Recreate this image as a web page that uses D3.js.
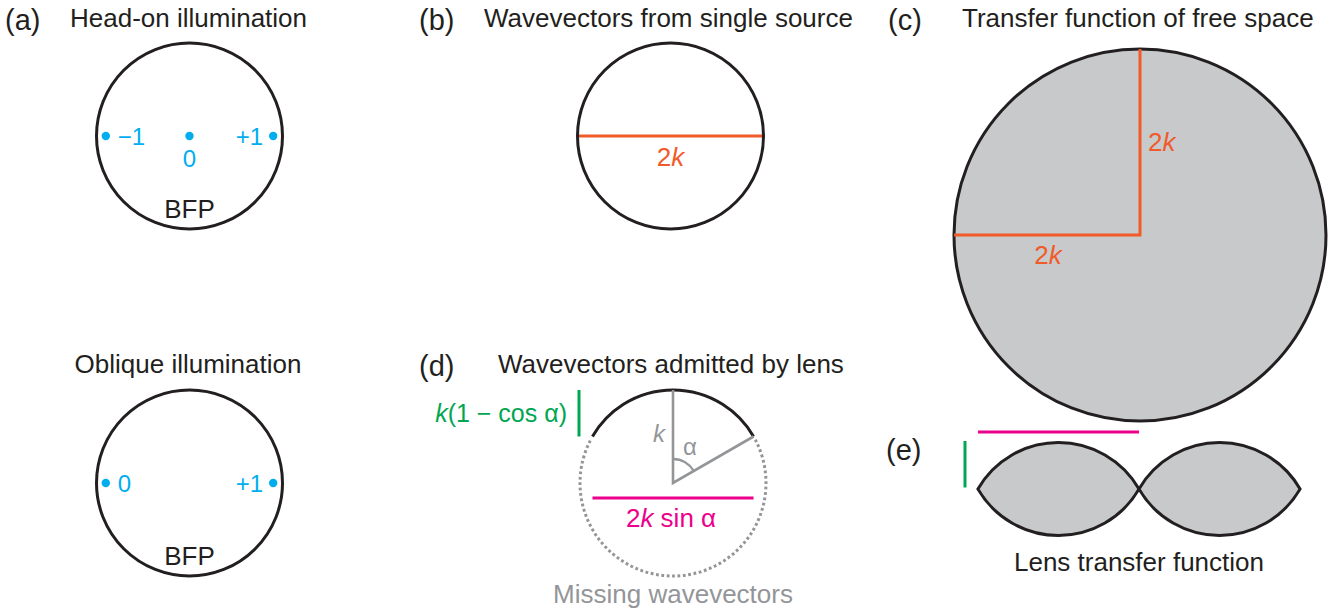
<!DOCTYPE html>
<html>
<head>
<meta charset="utf-8">
<script src="https://cdn.jsdelivr.net/npm/d3@7"></script>
<style>
  body { margin: 0; background: #fff; }
  text { font-family: "Liberation Sans", Arial, sans-serif; }
</style>
</head>
<body>
<div id="chart"></div>
<script>
// wavevector magnitude k is the unit for everything
const kPx = 93;
const alphaDeg = 60;

const headOnOrders = [-0.9, 0, 0.9];
const headOnLabels = ["−1", "0", "+1"];
const obliqueOrders = [-0.9, 0.9];
const obliqueLabels = ["0", "+1"];

const panelLetters = ["(a)", "(b)", "(c)", "(d)", "(e)"];
const panelTitles = ["Head-on illumination", "Wavevectors from single source",
  "Transfer function of free space", "Wavevectors admitted by lens", "Oblique illumination"];

const black = "#231f20", blue = "#00aeef", orange = "#f15a29",
  magenta = "#ec008c", green = "#00a651", gray = "#939598", fill = "#c8c9cb";

const W = 1343, H = 616;
let svg = d3.select("#chart").append("svg").attr("width", W).attr("height", H);

let k = d3.scaleLinear().domain([0, 1]).range([0, kPx]);
let a = alphaDeg * Math.PI / 180;

function label(x, y, t, size, color, anchor) {
  return svg.append("text").attr("x", x).attr("y", y)
    .attr("font-size", size).attr("fill", color || black)
    .attr("text-anchor", anchor || "start").text(t);
}

// open arc, angles measured clockwise from 12 o'clock
function openArc(r, a0, a1) {
  let p = d3.path();
  p.arc(0, 0, r, a0 - Math.PI / 2, a1 - Math.PI / 2);
  return p.toString();
}

// panel letters and titles
label(5, 30, panelLetters[0], 29);
label(70, 27, panelTitles[0], 26);
label(419, 30, panelLetters[1], 29);
label(484, 27, panelTitles[1], 26);
label(888, 30, panelLetters[2], 29);
label(962, 27, panelTitles[2], 26);
label(419, 376, panelLetters[3], 29);
label(498, 373, panelTitles[3], 26);
label(188, 373, panelTitles[4], 26, black, "middle");
label(886, 460, panelLetters[4], 29);

// (a) BFP with diffraction orders
function bfp(cx, cy, orders, names) {
  let g = svg.append("g").attr("transform", `translate(${cx},${cy})`);
  g.append("circle").attr("r", k(1)).attr("fill", "none").attr("stroke", black).attr("stroke-width", 3);
  g.selectAll(".dot").data(orders).enter().append("circle")
    .attr("cx", d => k(d)).attr("r", 4.2).attr("fill", blue);
  g.selectAll(".lab").data(orders).enter().append("text")
    .attr("x", d => d < 0 ? k(d) + 12 : (d > 0 ? k(d) - 10 : k(d)))
    .attr("y", d => d === 0 ? 31 : 9)
    .attr("text-anchor", d => d < 0 ? "start" : (d > 0 ? "end" : "middle"))
    .attr("font-size", 24).attr("fill", blue)
    .text((d, i) => names[i]);
  g.append("text").attr("y", k(1) - 11).attr("text-anchor", "middle")
    .attr("font-size", 26).attr("fill", black).text("BFP");
}
bfp(189.5, 136, headOnOrders, headOnLabels);
bfp(189.5, 483, obliqueOrders, obliqueLabels);

// (b) single source, diameter 2k
{
  let g = svg.append("g").attr("transform", "translate(670.5,136)");
  g.append("line").attr("x1", -k(1)).attr("x2", k(1)).attr("stroke", orange).attr("stroke-width", 3);
  g.append("circle").attr("r", k(1)).attr("fill", "none").attr("stroke", black).attr("stroke-width", 3);
  g.append("text").attr("y", 30).attr("text-anchor", "middle").attr("font-size", 26).attr("fill", orange)
    .html('2<tspan font-style="italic">k</tspan>');
}

// (c) free space, radius 2k
{
  let g = svg.append("g").attr("transform", "translate(1140,235)");
  g.append("circle").attr("r", k(2)).attr("fill", fill).attr("stroke", black).attr("stroke-width", 3);
  g.append("path").attr("d", d3.line()([[0, -k(2)], [0, 0], [-k(2), 0]]))
    .attr("fill", "none").attr("stroke", orange).attr("stroke-width", 3);
  g.append("text").attr("x", 8).attr("y", -84).attr("font-size", 26).attr("fill", orange)
    .html('2<tspan font-style="italic">k</tspan>');
  g.append("text").attr("x", -92).attr("y", 29).attr("text-anchor", "middle").attr("font-size", 26).attr("fill", orange)
    .html('2<tspan font-style="italic">k</tspan>');
}

// (d) lens aperture
{
  let cx = 673, cy = 483;
  let g = svg.append("g").attr("transform", `translate(${cx},${cy})`);
  g.append("path").attr("d", openArc(k(1), a + 0.04, 2 * Math.PI - a - 0.04))
    .attr("fill", "none").attr("stroke", gray).attr("stroke-width", 3)
    .attr("stroke-dasharray", "2.8 2.6");
  g.append("path").attr("d", openArc(k(1), -a, a))
    .attr("fill", "none").attr("stroke", black).attr("stroke-width", 3);
  g.append("path").attr("d", d3.line()([[0, -k(1)], [0, 0], [k(Math.sin(a)), -k(Math.cos(a))]]))
    .attr("fill", "none").attr("stroke", gray).attr("stroke-width", 2.6);
  g.append("path").attr("d", openArc(24, 0, a))
    .attr("fill", "none").attr("stroke", gray).attr("stroke-width", 2.4);
  g.append("text").attr("x", -8).attr("y", -41).attr("text-anchor", "end").attr("font-size", 24)
    .attr("fill", gray).attr("font-style", "italic").text("k");
  g.append("text").attr("x", 10).attr("y", -28).attr("font-size", 24).attr("fill", gray).text("α");
  // 2k sin α
  g.append("line").attr("x1", -k(Math.sin(a))).attr("x2", k(Math.sin(a))).attr("y1", 15).attr("y2", 15)
    .attr("stroke", magenta).attr("stroke-width", 3);
  g.append("text").attr("x", -2).attr("y", 44).attr("text-anchor", "middle").attr("font-size", 26).attr("fill", magenta)
    .html('2<tspan font-style="italic">k</tspan> sin α');
  // k(1 - cos α)
  g.append("line").attr("x1", -94).attr("x2", -94).attr("y1", -k(1)).attr("y2", -k(Math.cos(a)))
    .attr("stroke", green).attr("stroke-width", 3);
  g.append("text").attr("x", -106).attr("y", -61).attr("text-anchor", "end").attr("font-size", 25).attr("fill", green)
    .html('<tspan font-style="italic">k</tspan>(1 − cos α)');
  g.append("text").attr("y", 120).attr("text-anchor", "middle").attr("font-size", 26).attr("fill", gray)
    .text("Missing wavevectors");
}

// (e) lens transfer function: two lens-shaped overlaps
{
  let cy = 489, half = k(Math.sin(a)), sag = k(1) - k(Math.cos(a));
  let lensCenters = [1139 - half, 1139 + half];
  let lens = cx => {
    let p = d3.path();
    p.arc(cx, cy + k(Math.cos(a)), k(1), -Math.PI / 2 - a, -Math.PI / 2 + a);
    p.arc(cx, cy - k(Math.cos(a)), k(1), Math.PI / 2 - a, Math.PI / 2 + a);
    p.closePath();
    return p.toString();
  };
  svg.selectAll(".lens").data(lensCenters).enter().append("path")
    .attr("d", d => lens(d)).attr("fill", fill).attr("stroke", black).attr("stroke-width", 3)
    .attr("stroke-linejoin", "miter");
  svg.append("line").attr("x1", lensCenters[0] - half).attr("x2", lensCenters[0] + half)
    .attr("y1", 432).attr("y2", 432).attr("stroke", magenta).attr("stroke-width", 3);
  svg.append("line").attr("x1", 965).attr("x2", 965).attr("y1", cy - sag - 1.5).attr("y2", cy - 1.5)
    .attr("stroke", green).attr("stroke-width", 3);
  label(1139, 571, "Lens transfer function", 26, black, "middle");
}
</script>
</body>
</html>
